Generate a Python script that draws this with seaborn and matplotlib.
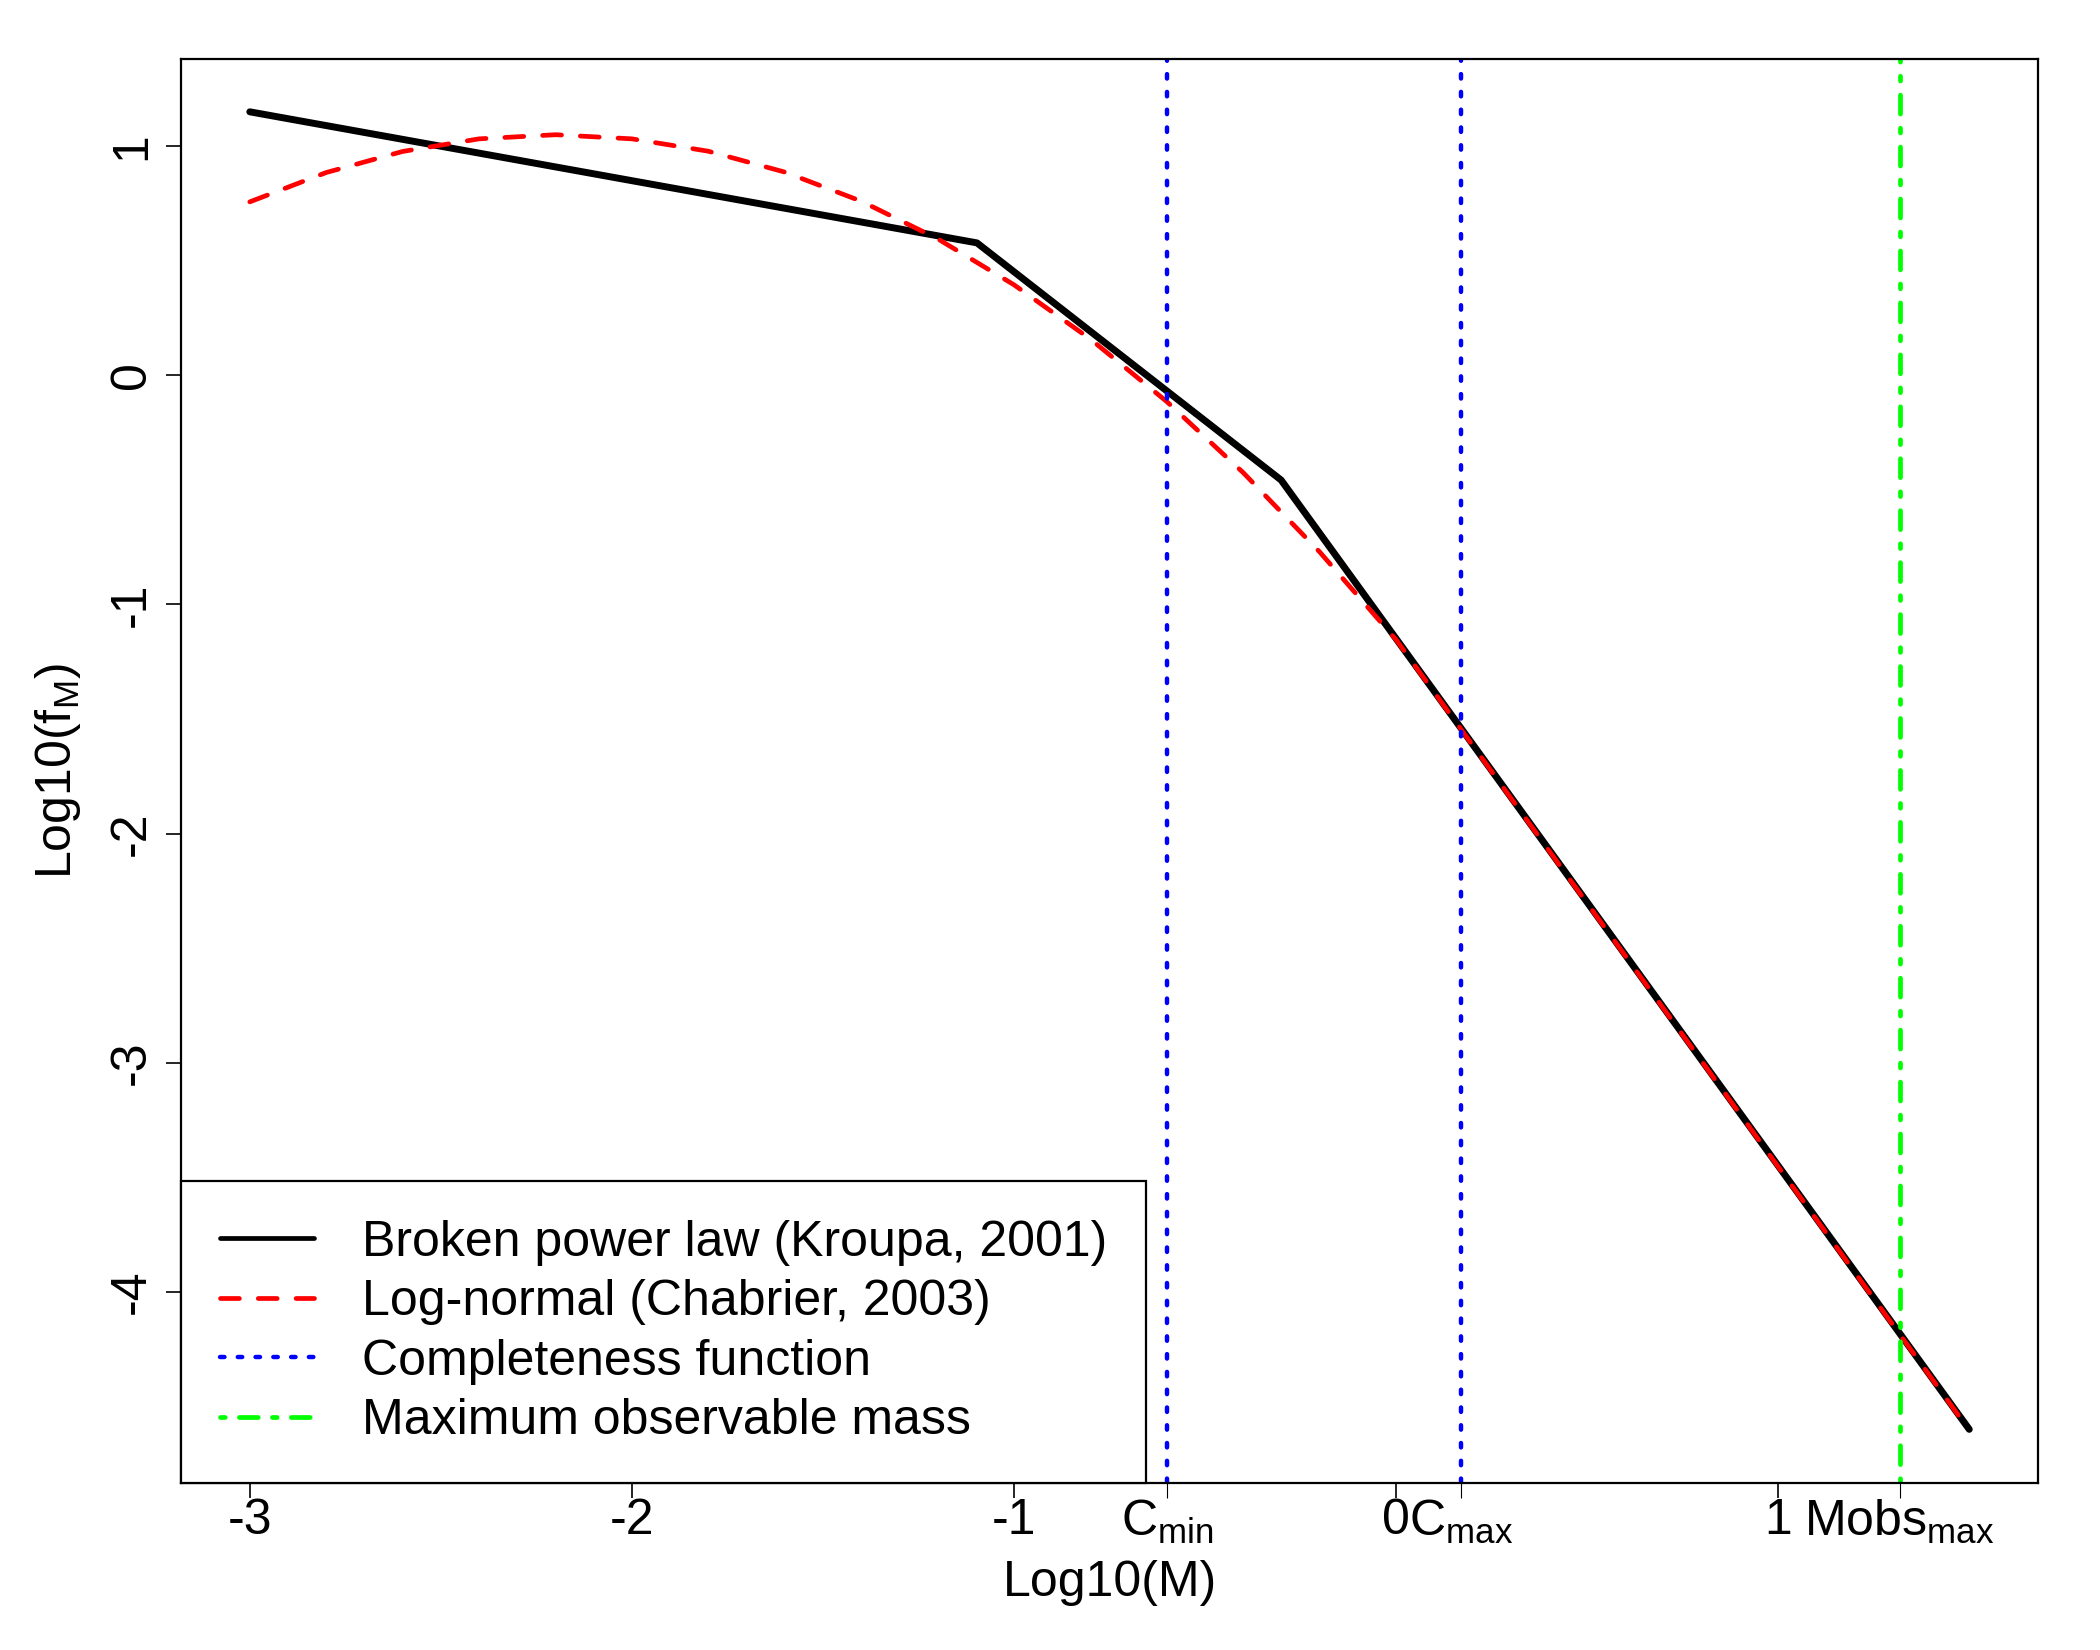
import numpy as np
import pandas as pd
import seaborn as sns
import matplotlib.pyplot as plt

# broken power law (Kroupa, 2001) - vertices
kroupa_logm = [-3.0, -1.097, -0.301, 1.5]
kroupa_logf = [1.15, 0.578, -0.457, -4.60]

# log-normal (Chabrier, 2003)
chab_logm = [-3.0, -2.8, -2.6, -2.4, -2.2, -2.0, -1.8, -1.6, -1.4, -1.2,
             -1.0, -0.8, -0.6, -0.4, -0.2, 0.0, 1.5]
chab_logf = [0.757, 0.885, 0.977, 1.032, 1.050, 1.032, 0.978, 0.887, 0.760, 0.596,
             0.395, 0.158, -0.115, -0.425, -0.771, -1.154, -4.604]

# completeness limits and max observable mass (log10 M)
c_min = -0.60
c_max = 0.17
mobs_max = 1.318

x_ticks = [-3, -2, -1, 0, 1]
y_ticks = [1, 0, -1, -2, -3, -4]
x_tick_labels = ['-3', '-2', '-1', '0', '1']
y_tick_labels = ['1', '0', '-1', '-2', '-3', '-4']
extra_tick_labels = [r'$\mathregular{C_{min}}$', r'$\mathregular{C_{max}}$', r'$\mathregular{Mobs_{max}}$']

sns.set_style("ticks")
plt.rcParams['font.family'] = ['Liberation Sans', 'DejaVu Sans']
plt.rcParams['axes.unicode_minus'] = False
plt.rcParams['text.color'] = 'black'
plt.rcParams['axes.labelcolor'] = 'black'
plt.rcParams['xtick.color'] = 'black'
plt.rcParams['ytick.color'] = 'black'
plt.rcParams['lines.dash_capstyle'] = 'round'
plt.rcParams['lines.solid_capstyle'] = 'round'
plt.rcParams['lines.solid_joinstyle'] = 'round'
plt.rcParams['lines.dash_joinstyle'] = 'round'

fs = 18

fig = plt.figure(figsize=(10.5, 8.25), dpi=200)
ax = fig.add_axes([0.0862, 0.1012, 0.8843, 0.8630])

kroupa = pd.DataFrame({'logm': kroupa_logm, 'logf': kroupa_logf})
chab = pd.DataFrame({'logm': chab_logm, 'logf': chab_logf})

sns.lineplot(data=kroupa, x='logm', y='logf', color='black', lw=2.5, ax=ax,
             label='Broken power law (Kroupa, 2001)', legend=False)
sns.lineplot(data=chab, x='logm', y='logf', color='#ff0000', lw=1.7, linestyle=(0, (4, 4)), ax=ax,
             label='Log-normal (Chabrier, 2003)', legend=False)

ax.axvline(c_min, color='#0000ff', lw=1.6, ls=(0, (1, 3)), label='Completeness function')
ax.axvline(c_max, color='#0000ff', lw=1.6, ls=(0, (1, 3)))
ax.axvline(mobs_max, color='#00ff00', lw=1.7, ls=(0, (1, 3, 4, 3)), label='Maximum observable mass')

# R style limits: 4% padding
xr = max(chab_logm) - min(chab_logm)
yr = max(kroupa_logf) - min(chab_logf)
ax.set_xlim(min(chab_logm) - 0.04 * xr, max(chab_logm) + 0.04 * xr)
ax.set_ylim(min(chab_logf) - 0.04 * yr, max(kroupa_logf) + 0.04 * yr)

ax.set_xticks(x_ticks + [c_min, c_max, mobs_max], x_tick_labels + extra_tick_labels)
ax.set_yticks(y_ticks, y_tick_labels)
ax.tick_params(axis='both', direction='out', length=5.4, width=0.6, color='black',
               labelcolor='black', labelsize=fs)
ax.tick_params(axis='x', pad=0)
ax.tick_params(axis='y', pad=4, labelrotation=90)
for lbl in ax.get_yticklabels():
    lbl.set_va('center')
for tk, loc in zip(ax.xaxis.get_major_ticks(), ax.get_xticks()):
    if loc in (c_min, c_max, mobs_max):
        tk.tick1line.set_color('#0000ff')
        tk.tick1line.set_markeredgewidth(0.4)

for sp in ax.spines.values():
    sp.set_linewidth(0.8)
    sp.set_color('black')

ax.set_xlabel('Log10(M)', fontsize=fs, color='black')
ax.set_ylabel(r'Log10($\mathregular{f_M}$)', fontsize=fs, color='black')
ax.xaxis.set_label_coords(0.5, -0.054)
ax.yaxis.set_label_coords(-0.053, 0.5)

handles, labels = ax.get_legend_handles_labels()
leg = ax.legend(handles, labels, loc='lower left', bbox_to_anchor=(0, 0), borderaxespad=0,
                frameon=True, fancybox=False, edgecolor='black', framealpha=1, fontsize=fs,
                handlelength=1.88, handletextpad=0.95, borderpad=0.78, labelspacing=0.27)
leg.get_frame().set_linewidth(0.8)
leg.get_lines()[0].set_linewidth(1.7)
for txt in leg.get_texts():
    txt.set_color('black')

fig.savefig('out.png', dpi=200)
